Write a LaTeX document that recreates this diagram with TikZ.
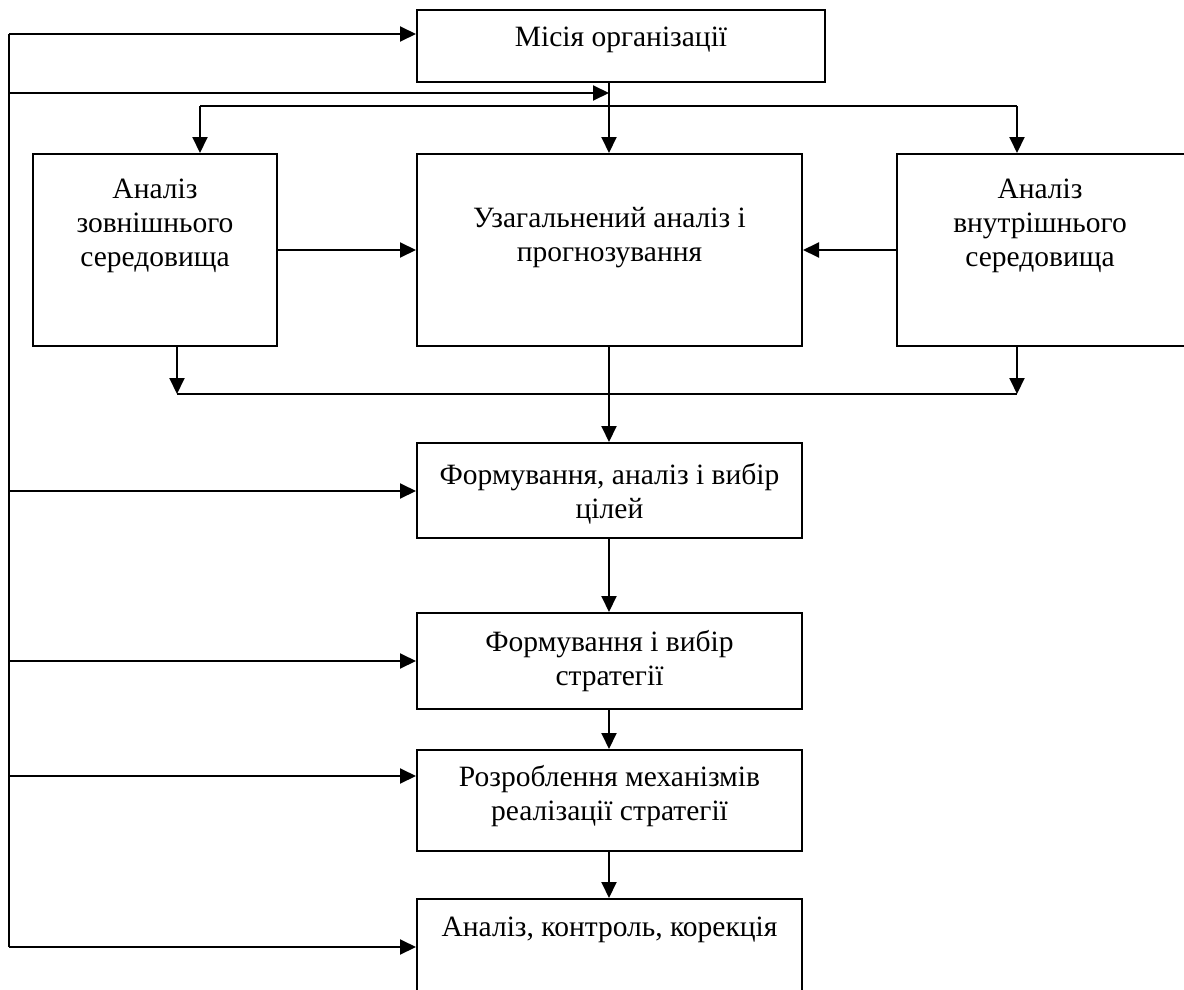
\documentclass[tikz,border=0pt]{standalone}
\usepackage{fontspec}
\setmainfont{Liberation Serif}
\usetikzlibrary{arrows.meta}
\begin{document}
\begin{tikzpicture}[x=1pt,y=-1pt,
  box/.style={draw,line width=2pt,minimum width=#1,inner sep=0pt},
  lbl/.style={align=center,font=\fontsize{29.5}{34}\selectfont,inner sep=0pt},
  conn/.style={line width=2pt},
  arr/.style={line width=2pt,-{Triangle[length=16pt,width=15pt]}}]
\useasboundingbox (0,0) rectangle (1184,990);
% boxes
\node[box=408pt,minimum height=72pt] (M) at (621,46) {};
\node[box=244pt,minimum height=192pt] (L) at (155,250) {};
\node[box=385pt,minimum height=192pt] (U) at (609.5,250) {};
\node[box=289pt,minimum height=192pt] (R) at (1041.5,250) {};
\node[box=385pt,minimum height=95pt] (C) at (609.5,490.5) {};
\node[box=385pt,minimum height=96pt] (S) at (609.5,661) {};
\node[box=385pt,minimum height=101pt] (P) at (609.5,800.5) {};
\node[box=385pt,minimum height=100pt] (K) at (609.5,949) {};
% texts
\node[lbl] (tM) at (621,40) {Місія організації};
\node[lbl] (tL) at (155,226) {Аналіз\\зовнішнього\\середовища};
\node[lbl] (tU) at (609.5,238) {Узагальнений аналіз і\\прогнозування};
\node[lbl] (tR) at (1040,226) {Аналіз\\внутрішнього\\середовища};
\node[lbl] (tC) at (609.5,494) {Формування, аналіз і вибір\\цілей};
\node[lbl] (tS) at (609.5,661) {Формування і вибір\\стратегії};
\node[lbl] (tP) at (609.5,796) {Розроблення механізмів\\реалізації стратегії};
\node[lbl] (tK) at (609.5,930) {Аналіз, контроль, корекція};
% coordinates
\coordinate (lt) at (9,34);
\coordinate (lb) at (9,947);
\coordinate (l2) at (9,93);
\coordinate (c2) at (609,93);
\coordinate (hl) at (200,106);
\coordinate (hr) at (1017,106);
\coordinate (bl) at (177,394);
\coordinate (br) at (1017,394);
\coordinate (lc) at (9,491);
\coordinate (lp) at (9,776);
% feedback line
\draw[conn] (lb) -- (lt);
\draw[arr] (lt) -- (M.west |- lt);
\draw[arr] (l2) -- (c2);
\draw[arr] (lc) -- (C.west |- lc);
\draw[arr] (lb |- S) -- (S.west);
\draw[arr] (lp) -- (P.west |- lp);
\draw[arr] (lb) -- (K.west |- lb);
% center spine
\draw[arr] (c2 |- M.south) -- (c2 |- U.north);
\draw[conn] (hl) -- (hr);
\draw[arr] (hl) -- (hl |- L.north);
\draw[arr] (hr) -- (hr |- R.north);
\draw[arr] (L.east) -- (U.west);
\draw[arr] (R.west) -- (U.east);
\draw[arr] (bl |- L.south) -- (bl);
\draw[arr] (br |- R.south) -- (br);
\draw[conn] (bl) -- (br);
\draw[arr] (c2 |- U.south) -- (c2 |- C.north);
\draw[arr] (c2 |- C.south) -- (c2 |- S.north);
\draw[arr] (c2 |- S.south) -- (c2 |- P.north);
\draw[arr] (c2 |- P.south) -- (c2 |- K.north);
\end{tikzpicture}
\end{document}
